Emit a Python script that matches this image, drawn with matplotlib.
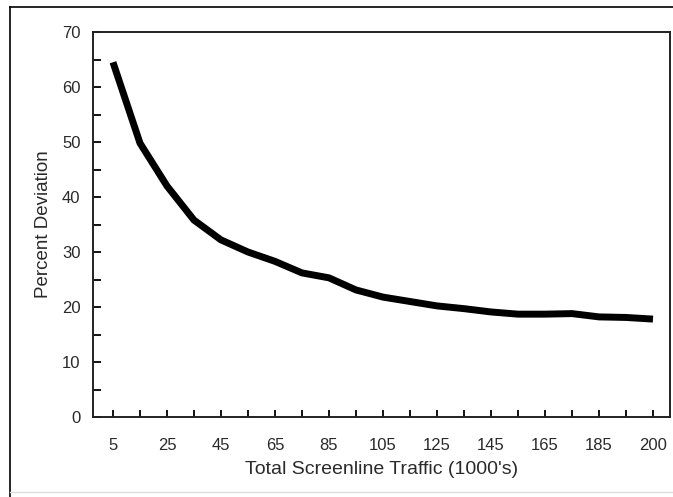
import matplotlib
matplotlib.use("Agg")
import matplotlib.pyplot as plt
from matplotlib.lines import Line2D

# categories along the x axis (evenly spaced, last one is 200)
traffic = [5, 15, 25, 35, 45, 55, 65, 75, 85, 95, 105,
           115, 125, 135, 145, 155, 165, 175, 185, 195, 200]
deviation = [64.5, 49.8, 42.0, 35.8, 32.2, 30.0, 28.3, 26.2, 25.3, 23.1, 21.8,
             21.0, 20.2, 19.7, 19.1, 18.7, 18.7, 18.8, 18.2, 18.1, 17.8]

plt.rcParams['font.family'] = ['Liberation Sans', 'DejaVu Sans']
text_col = "#2a2a2a"

W, H = 673, 497
fig = plt.figure(figsize=(W / 100, H / 100), dpi=100)
ax = fig.add_axes([93 / W, (H - 417) / H, (670 - 93) / W, (417 - 32) / H])

idx = list(range(len(traffic)))
ax.plot(idx, deviation, color="black", lw=5, solid_capstyle="butt",
        solid_joinstyle="round")

ax.set_ylim(0, 70)
ax.set_xlim(-0.74, 20.63)
ax.set_yticks(range(0, 71, 10))
ax.set_yticks(range(5, 70, 10), minor=True)
ax.set_xticks(idx)
ax.set_xticklabels([str(t) if i % 2 == 0 else "" for i, t in enumerate(traffic)])

ax.tick_params(axis="y", which="both", direction="in", length=6, width=1.3,
               pad=9, labelsize=12, labelcolor=text_col)
ax.tick_params(axis="x", which="both", direction="in", length=5, width=1.3,
               pad=15, labelsize=12, labelcolor=text_col)

for s in ax.spines.values():
    s.set_linewidth(1.4)
    s.set_color("#222222")

ax.set_xlabel("Total Screenline Traffic (1000's)", fontsize=14,
              color=text_col, labelpad=6)
ax.set_ylabel("Percent Deviation", fontsize=13.5, color=text_col, labelpad=7)

# outer frame of the original figure
fig.add_artist(Line2D([10 / W, 1], [1 - 7 / H, 1 - 7 / H], color="black", lw=1.2))
fig.add_artist(Line2D([10 / W, 10 / W], [1 - 7 / H, 0], color="black", lw=1.2))
fig.add_artist(Line2D([10 / W, 1], [1 - 492 / H, 1 - 492 / H], color="#dddddd", lw=1.0))

fig.savefig("out.png", dpi=100)
